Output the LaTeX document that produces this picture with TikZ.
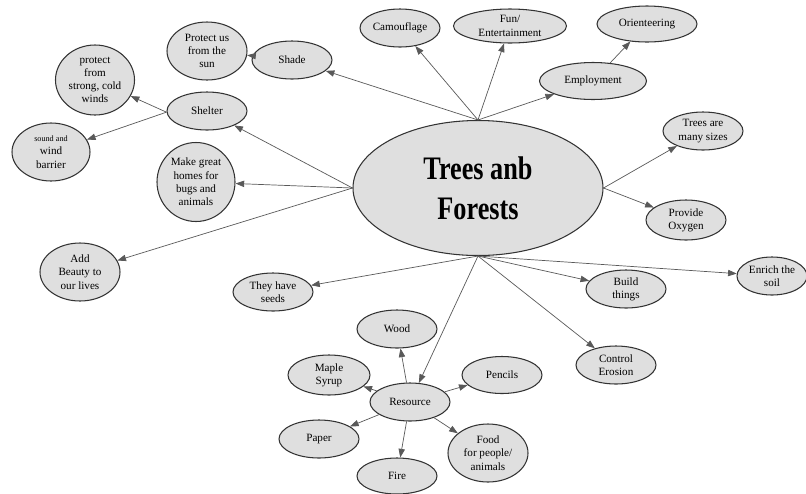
\documentclass[tikz,border=0pt]{standalone}
\usepackage{fontspec}
\setmainfont{Liberation Serif}
\usetikzlibrary{shapes.geometric,arrows.meta}

\begin{document}
\begin{tikzpicture}[x=0.03cm,y=-0.03cm,
					>={Triangle[length=2.6mm,width=1.9mm]},
					idea/.style={ellipse,draw=black!80,line width=0.9pt,fill=gray!25,
					             inner sep=0pt,align=center,
					             font=\fontsize{9.5}{11.3}\selectfont,
					             minimum width=2.4cm,minimum height=1.14cm},
					tall/.style={idea,minimum height=1.74cm},
					hub node/.style={idea,minimum width=7.5cm,minimum height=4.05cm,
					             font=\fontsize{28}{34}\selectfont\bfseries},
					link/.style={draw=black!65,line width=0.6pt,->}]

  \useasboundingbox (0,0) rectangle (806,493);

  % centre
  \node[hub node] (hub) at (478,188) {\scalebox{0.8}[1]{Trees anb}\\\scalebox{0.8}[1]{Forests}};

  % top
  \node[idea] (camo) at (400,28) {Camouflage};
  \node[idea,minimum width=3.39cm,minimum height=1.02cm] (fun) at (510,26) {Fun/\\Entertainment};
  \node[idea,minimum width=3.21cm,minimum height=1.11cm] (employ) at (593,81) {Employment};
  \node[idea,minimum width=3cm,minimum height=1.08cm] (orient) at (647,24) {Orienteering};
  \node[idea] (shade) at (292,60) {Shade};
  \node[tall] (sun) at (207,51) {Protect us\\from the\\sun};

  % left
  \node[idea] (shelter) at (207,111) {Shelter};
  \node[idea,minimum width=2.37cm,minimum height=2.1cm] (winds) at (95,80) {protect\\from\\strong, cold\\winds};
  \node[tall,minimum width=2.34cm] (barrier) at (51,152) {{\fontsize{7}{9}\selectfont sound and}\\wind\\barrier};
  \node[idea,minimum width=2.34cm,minimum height=2.37cm] (homes) at (196,182) {Make great\\homes for\\bugs and\\animals};
  \node[tall] (beauty) at (80,272) {Add\\Beauty to\\our lives};
  \node[idea] (seeds) at (273,292) {They have\\seeds};

  % right
  \node[idea] (sizes) at (703,131) {Trees are\\many sizes};
  \node[idea,minimum height=1.2cm] (oxygen) at (686,220) {Provide\\Oxygen};
  \node[idea,minimum width=2.1cm] (soil) at (772,276) {Enrich the\\soil};
  \node[idea] (build) at (626,289) {Build\\things};
  \node[idea] (erosion) at (616,365) {Control\\Erosion};

  % resources
  \node[idea] (res) at (410,402) {Resource};
  \node[idea] (wood) at (397,329) {Wood};
  \node[idea,minimum width=2.46cm,minimum height=1.2cm] (syrup) at (329,375) {Maple\\Syrup};
  \node[idea] (paper) at (319,439) {Paper};
  \node[idea,minimum height=1.08cm] (fire) at (397,476) {Fire};
  \node[tall] (food) at (488,453) {Food\\for people/\\animals};
  \node[idea,minimum height=1.11cm] (pencils) at (502,375) {Pencils};

  \path[every edge/.style=link]
    (hub.north) edge (shade)
                edge (camo)
                edge (fun)
                edge (employ)
    (hub.west)  edge (shelter)
                edge (homes)
                edge (beauty)
    (hub.east)  edge (sizes)
                edge (oxygen)
    (hub.south) edge (seeds)
                edge (res)
                edge (erosion)
                edge (build)
                edge (soil)
    (employ)    edge (orient)
    (shade)     edge (sun)
    ([yshift=-1pt]shelter.west) edge (winds)
                edge (barrier)
    (res)       edge (wood)
                edge (syrup)
                edge (paper)
                edge (fire)
                edge (food)
                edge (pencils);
\end{tikzpicture}
\end{document}
